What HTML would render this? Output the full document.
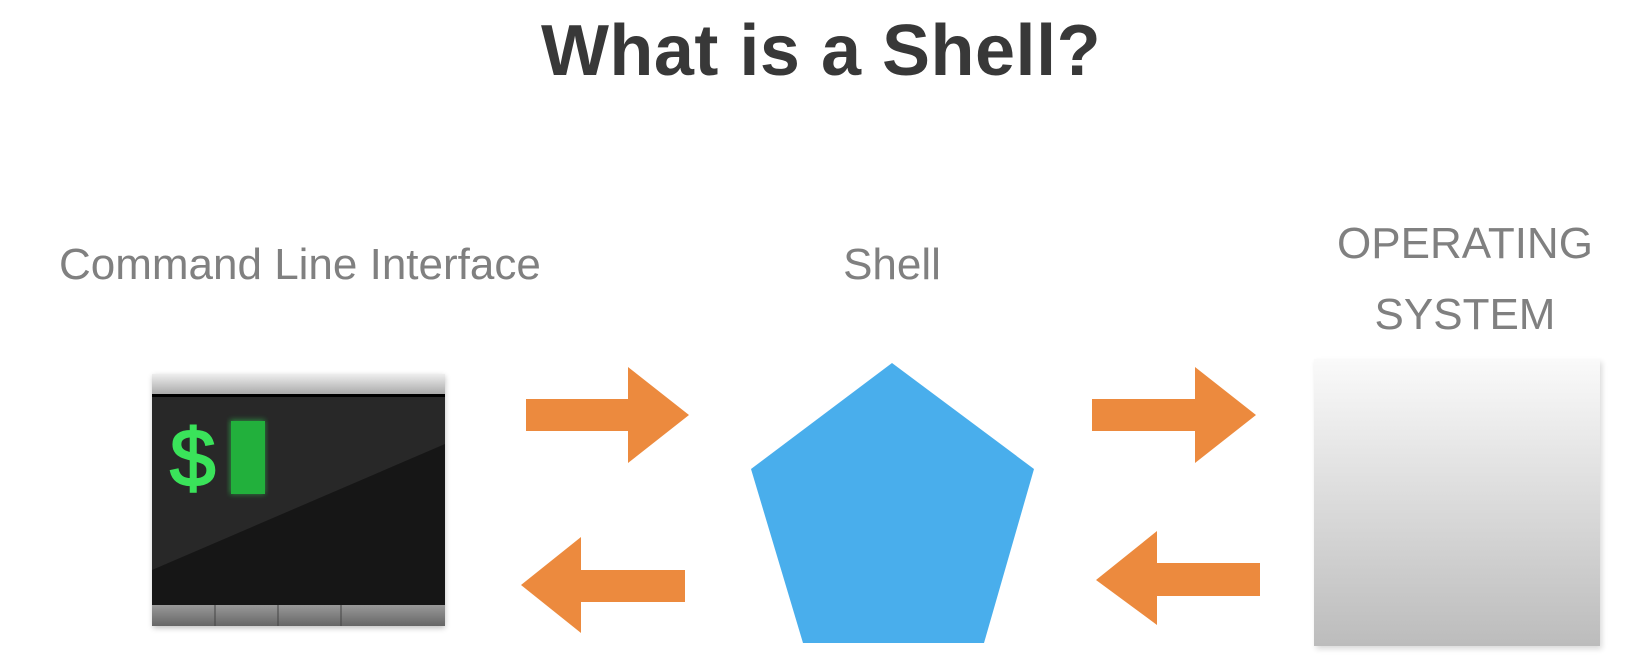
<!DOCTYPE html>
<html><head><style>
html,body{margin:0;padding:0;background:#fff;}
body{width:1642px;height:670px;position:relative;overflow:hidden;font-family:"Liberation Sans",sans-serif;}
.t{position:absolute;white-space:nowrap;color:#808080;font-size:44px;}
</style></head><body>
<div class="t" style="left:0;width:1642px;text-align:center;top:10px;font-size:72px;font-weight:bold;color:#383838;letter-spacing:0.5px;">What is a Shell?</div>
<div class="t" style="left:59px;top:240px;">Command Line Interface</div>
<div class="t" style="left:842px;width:100px;text-align:center;top:240px;">Shell</div>
<div class="t" style="left:1300px;width:330px;text-align:center;top:208px;line-height:71px;">OPERATING<br>SYSTEM</div>
<svg width="1642" height="670" style="position:absolute;left:0;top:0">
<defs>
<linearGradient id="os" x1="0" y1="0" x2="0" y2="1"><stop offset="0" stop-color="#fafafa"/><stop offset="1" stop-color="#bcbcbc"/></linearGradient>
<linearGradient id="bar" x1="0" y1="0" x2="0" y2="1"><stop offset="0" stop-color="#eee"/><stop offset="1" stop-color="#aaa"/></linearGradient>
<linearGradient id="bot" x1="0" y1="0" x2="0" y2="1"><stop offset="0" stop-color="#999"/><stop offset="1" stop-color="#666"/></linearGradient>
<filter id="g"><feGaussianBlur stdDeviation="3"/></filter>
</defs>
<rect x="153" y="376" width="292" height="252" fill="#000" opacity=".25" filter="url(#g)"/>
<rect x="152" y="374" width="293" height="252" fill="#161616"/>
<polygon points="152,395 445,395 445,444 152,570" fill="#282828"/>
<rect x="152" y="374" width="293" height="20" fill="url(#bar)"/>
<rect x="152" y="394" width="293" height="3" fill="#000"/>
<rect x="152" y="605" width="293" height="21" fill="url(#bot)"/>
<line x1="215" y1="605" x2="215" y2="626" stroke="#444"/><line x1="278" y1="605" x2="278" y2="626" stroke="#444"/><line x1="341" y1="605" x2="341" y2="626" stroke="#444"/>
<rect x="230" y="420" width="35" height="74" fill="#2ecc50" filter="url(#g)" opacity=".6"/>
<rect x="231" y="421" width="34" height="73" fill="#22b03c"/>
<text x="170" y="486" font-family="Liberation Sans" font-size="82" fill="#3ae35a" stroke="#3ae35a" stroke-width="2">$</text>
<g fill="#ec8a3e">
<polygon points="526,399 628,399 628,367 689,415 628,463 628,431 526,431"/>
<polygon points="685,570 581,570 581,537 521,585 581,633 581,602 685,602"/>
<polygon points="1092,399 1195,399 1195,367 1256,415 1195,463 1195,431 1092,431"/>
<polygon points="1260,563 1157,563 1157,531 1096,580 1157,625 1157,596 1260,596"/>
</g>
<polygon points="892,363 1034,469 984,643 803,643 751,469" fill="#49aeec"/>
<rect x="1316" y="362" width="286" height="287" fill="#000" opacity=".15" filter="url(#g)"/>
<rect x="1314" y="359" width="286" height="287" fill="url(#os)"/>
</svg>
</body></html>
